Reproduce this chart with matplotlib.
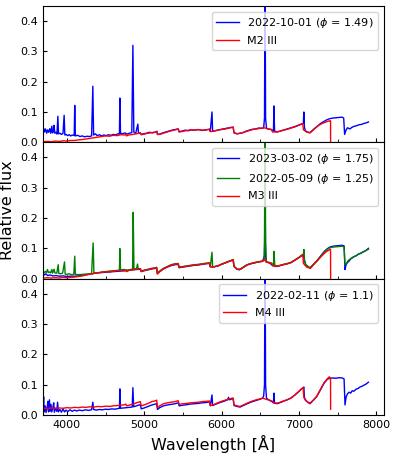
import matplotlib
matplotlib.use("Agg")
import matplotlib.pyplot as plt
from matplotlib.ticker import MultipleLocator

# ---------------- Panel 1 ----------------
label_obs1 = r"2022-10-01 ($\phi$ = 1.49)"
label_tpl1 = "M2 III"
w_obs1 = [3690, 3700, 3712, 3725, 3740, 3752, 3765, 3780, 3792, 3806, 3815, 3826, 3835, 3844, 3860, 3872,
          3884, 3892, 3910, 3930, 3950, 3965, 3974, 3990, 4010, 4030, 4050, 4070, 4095, 4102, 4110, 4140,
          4170, 4200, 4230, 4260, 4290, 4320, 4336, 4346, 4370, 4390, 4420, 4450, 4480, 4510, 4540, 4570,
          4600, 4630, 4660, 4680, 4686, 4694, 4720, 4750, 4780, 4810, 4840, 4854, 4866, 4890, 4918, 4926,
          4950, 4960, 4990, 5030, 5070, 5110, 5150, 5165, 5172, 5200, 5240, 5280, 5320, 5360, 5400, 5440,
          5452, 5490, 5530, 5570, 5610, 5650, 5700, 5750, 5800, 5845, 5855, 5877, 5885, 5920, 5960, 6000,
          6040, 6080, 6120, 6150, 6162, 6200, 6240, 6280, 6320, 6360, 6400, 6440, 6480, 6520, 6545, 6556,
          6563, 6570, 6582, 6620, 6650, 6660, 6672, 6678, 6686, 6720, 6760, 6800, 6850, 6900, 6950, 7000,
          7040, 7058, 7065, 7072, 7085, 7110, 7140, 7170, 7200, 7240, 7280, 7320, 7360, 7400, 7440, 7480,
          7520, 7560, 7580, 7592, 7610, 7630, 7660, 7690, 7720, 7750, 7780, 7810, 7840, 7870, 7900]
f_obs1 = [0.040, 0.046, 0.034, 0.044, 0.030, 0.041, 0.033, 0.045, 0.030, 0.053, 0.031, 0.036, 0.056, 0.030, 0.033, 0.027,
          0.086, 0.028, 0.030, 0.026, 0.029, 0.089, 0.024, 0.026, 0.022, 0.025, 0.021, 0.024, 0.022, 0.122, 0.021, 0.023,
          0.019, 0.021, 0.018, 0.020, 0.019, 0.021, 0.185, 0.024, 0.028, 0.022, 0.025, 0.021, 0.024, 0.022, 0.025, 0.023,
          0.026, 0.024, 0.028, 0.027, 0.146, 0.030, 0.028, 0.031, 0.027, 0.030, 0.032, 0.320, 0.034, 0.029, 0.060, 0.030,
          0.031, 0.026, 0.028, 0.030, 0.033, 0.031, 0.034, 0.036, 0.026, 0.027, 0.031, 0.034, 0.037, 0.040, 0.042, 0.044,
          0.035, 0.037, 0.040, 0.038, 0.041, 0.040, 0.042, 0.039, 0.041, 0.043, 0.036, 0.100, 0.037, 0.038, 0.041, 0.043,
          0.045, 0.047, 0.049, 0.050, 0.032, 0.028, 0.030, 0.032, 0.037, 0.040, 0.043, 0.044, 0.047, 0.046, 0.048, 0.080,
          0.600, 0.080, 0.046, 0.043, 0.042, 0.036, 0.038, 0.120, 0.037, 0.034, 0.037, 0.040, 0.044, 0.048, 0.052, 0.057,
          0.061, 0.062, 0.100, 0.050, 0.038, 0.034, 0.031, 0.038, 0.045, 0.053, 0.062, 0.068, 0.074, 0.078, 0.080, 0.081,
          0.082, 0.083, 0.080, 0.026, 0.040, 0.048, 0.044, 0.050, 0.053, 0.055, 0.058, 0.059, 0.062, 0.064, 0.067]

w_tpl1 = [3690, 3750, 3800, 3850, 3900, 3950, 4000, 4050, 4100, 4150, 4200, 4250, 4300, 4350, 4400, 4450,
          4500, 4550, 4600, 4650, 4700, 4750, 4762, 4772, 4800, 4850, 4900, 4950, 4962, 5000, 5050, 5100,
          5150, 5165, 5172, 5200, 5250, 5300, 5350, 5400, 5440, 5452, 5500, 5550, 5600, 5650, 5700, 5750,
          5800, 5845, 5855, 5900, 5950, 6000, 6050, 6100, 6150, 6162, 6200, 6250, 6300, 6350, 6400, 6450,
          6500, 6550, 6600, 6650, 6660, 6700, 6750, 6800, 6850, 6900, 6950, 7000, 7050, 7060, 7100, 7150,
          7200, 7250, 7300, 7350, 7400, 7410, 7411]
f_tpl1 = [0.002, 0.003, 0.002, 0.004, 0.003, 0.005, 0.004, 0.006, 0.006, 0.008, 0.009, 0.011, 0.013, 0.015, 0.017, 0.019,
          0.021, 0.020, 0.023, 0.022, 0.025, 0.024, 0.027, 0.021, 0.024, 0.026, 0.028, 0.031, 0.025, 0.027, 0.030, 0.032,
          0.034, 0.036, 0.026, 0.026, 0.030, 0.034, 0.038, 0.041, 0.044, 0.034, 0.036, 0.039, 0.041, 0.040, 0.042, 0.040,
          0.041, 0.043, 0.035, 0.037, 0.040, 0.042, 0.044, 0.047, 0.050, 0.031, 0.028, 0.030, 0.034, 0.038, 0.042, 0.044,
          0.046, 0.048, 0.044, 0.042, 0.034, 0.034, 0.036, 0.040, 0.043, 0.047, 0.051, 0.056, 0.062, 0.041, 0.034, 0.032,
          0.044, 0.055, 0.062, 0.067, 0.071, 0.071, 0.0]

# ---------------- Panel 2 ----------------
label_obs2a = r"2023-03-02 ($\phi$ = 1.75)"
label_obs2b = r"2022-05-09 ($\phi$ = 1.25)"
label_tpl2 = "M3 III"
w_obs2a = [3690, 3710, 3730, 3750, 3780, 3820, 3860, 3900, 3950, 4000, 4050, 4100, 4150, 4200, 4250, 4300,
           4350, 4400, 4450, 4500, 4550, 4600, 4650, 4700, 4750, 4800, 4850, 4900, 4950, 4962, 5000, 5050,
           5100, 5150, 5160, 5170, 5200, 5250, 5300, 5350, 5400, 5440, 5452, 5500, 5550, 5600, 5650, 5700,
           5750, 5800, 5845, 5855, 5900, 5960, 6000, 6050, 6100, 6150, 6162, 6200, 6230, 6280, 6330, 6380,
           6430, 6480, 6530, 6556, 6563, 6570, 6580, 6620, 6660, 6720, 6760, 6800, 6850, 6900, 6950, 7000,
           7040, 7058, 7074, 7090, 7120, 7145, 7180, 7230, 7280, 7330, 7370, 7400, 7440, 7480, 7520, 7560,
           7585, 7597, 7610, 7625, 7650, 7670, 7690, 7710, 7740, 7770, 7800, 7830, 7860, 7900]
f_obs2a = [0.018, 0.012, 0.016, 0.010, 0.012, 0.009, 0.010, 0.008, 0.009, 0.007, 0.008, 0.008, 0.009, 0.011, 0.013, 0.015,
           0.017, 0.019, 0.020, 0.021, 0.022, 0.023, 0.024, 0.025, 0.026, 0.027, 0.029, 0.030, 0.031, 0.023, 0.026, 0.029,
           0.032, 0.034, 0.035, 0.017, 0.023, 0.032, 0.038, 0.043, 0.046, 0.047, 0.036, 0.038, 0.040, 0.042, 0.044, 0.045,
           0.047, 0.049, 0.050, 0.039, 0.039, 0.042, 0.047, 0.052, 0.057, 0.061, 0.040, 0.031, 0.029, 0.037, 0.045, 0.049,
           0.052, 0.055, 0.057, 0.075, 0.300, 0.075, 0.055, 0.052, 0.043, 0.040, 0.043, 0.046, 0.049, 0.053, 0.061, 0.069,
           0.077, 0.079, 0.058, 0.045, 0.039, 0.035, 0.044, 0.058, 0.074, 0.090, 0.099, 0.104, 0.107, 0.108, 0.109, 0.110,
           0.108, 0.030, 0.045, 0.052, 0.058, 0.065, 0.068, 0.072, 0.075, 0.081, 0.083, 0.088, 0.091, 0.100]

w_obs2b = [3690, 3705, 3720, 3735, 3750, 3760, 3775, 3790, 3806, 3815, 3835, 3845, 3870, 3888, 3896, 3920,
           3945, 3970, 3978, 4000, 4030, 4060, 4090, 4102, 4110, 4150, 4200, 4250, 4300, 4320, 4340, 4350,
           4380, 4420, 4460, 4500, 4550, 4600, 4650, 4680, 4686, 4694, 4740, 4780, 4820, 4850, 4858, 4868,
           4900, 4914, 4922, 4950, 4962, 5000, 5050, 5100, 5150, 5160, 5170, 5200, 5250, 5300, 5350, 5400,
           5440, 5452, 5500, 5550, 5600, 5650, 5700, 5750, 5800, 5845, 5855, 5877, 5885, 5920, 5960, 6000,
           6050, 6100, 6140, 6152, 6162, 6200, 6230, 6280, 6330, 6380, 6430, 6480, 6530, 6550, 6556, 6563,
           6570, 6580, 6620, 6650, 6660, 6672, 6680, 6688, 6720, 6760, 6800, 6850, 6900, 6950, 7000, 7040,
           7058, 7066, 7074, 7090, 7120, 7145, 7180, 7230, 7280, 7330, 7370, 7400, 7440, 7480, 7520, 7560,
           7585, 7597, 7615, 7640, 7670, 7700, 7740, 7780, 7820, 7860, 7900]
f_obs2b = [0.022, 0.019, 0.024, 0.020, 0.030, 0.020, 0.022, 0.019, 0.030, 0.018, 0.031, 0.019, 0.018, 0.046, 0.017, 0.016,
           0.018, 0.055, 0.015, 0.014, 0.016, 0.013, 0.014, 0.074, 0.014, 0.013, 0.014, 0.015, 0.016, 0.017, 0.118, 0.020,
           0.019, 0.020, 0.022, 0.023, 0.025, 0.026, 0.027, 0.028, 0.099, 0.029, 0.030, 0.028, 0.030, 0.031, 0.219, 0.033,
           0.032, 0.048, 0.033, 0.033, 0.025, 0.028, 0.031, 0.034, 0.036, 0.037, 0.018, 0.025, 0.034, 0.040, 0.046, 0.049,
           0.050, 0.038, 0.040, 0.042, 0.044, 0.046, 0.047, 0.049, 0.051, 0.052, 0.040, 0.087, 0.038, 0.040, 0.043, 0.048,
           0.053, 0.058, 0.062, 0.063, 0.041, 0.032, 0.030, 0.038, 0.046, 0.050, 0.053, 0.056, 0.058, 0.062, 0.120, 0.600,
           0.120, 0.056, 0.053, 0.051, 0.044, 0.046, 0.090, 0.045, 0.041, 0.044, 0.047, 0.050, 0.054, 0.062, 0.070, 0.078,
           0.080, 0.096, 0.060, 0.046, 0.040, 0.036, 0.045, 0.057, 0.072, 0.088, 0.097, 0.102, 0.104, 0.105, 0.106, 0.107,
           0.105, 0.046, 0.050, 0.060, 0.066, 0.071, 0.076, 0.082, 0.087, 0.092, 0.097]

w_tpl2 = [3690, 3750, 3800, 3850, 3900, 3950, 4000, 4050, 4100, 4150, 4200, 4250, 4300, 4350, 4400, 4450,
          4500, 4550, 4600, 4650, 4700, 4750, 4762, 4772, 4800, 4850, 4900, 4950, 4962, 5000, 5050, 5100,
          5150, 5162, 5172, 5200, 5250, 5300, 5350, 5400, 5440, 5452, 5500, 5550, 5600, 5650, 5700, 5750,
          5800, 5845, 5855, 5900, 5950, 6000, 6050, 6100, 6150, 6162, 6200, 6250, 6300, 6350, 6400, 6450,
          6500, 6540, 6555, 6570, 6600, 6650, 6660, 6700, 6750, 6800, 6850, 6900, 6950, 7000, 7050, 7060,
          7080, 7100, 7150, 7200, 7250, 7300, 7350, 7400, 7410, 7411]
f_tpl2 = [0.002, 0.003, 0.002, 0.003, 0.002, 0.004, 0.003, 0.004, 0.005, 0.007, 0.009, 0.012, 0.015, 0.017, 0.019, 0.021,
          0.023, 0.022, 0.025, 0.026, 0.027, 0.026, 0.028, 0.023, 0.027, 0.029, 0.031, 0.033, 0.024, 0.027, 0.030, 0.033,
          0.035, 0.037, 0.015, 0.023, 0.033, 0.039, 0.045, 0.048, 0.049, 0.037, 0.039, 0.041, 0.043, 0.045, 0.046, 0.048,
          0.050, 0.051, 0.039, 0.039, 0.042, 0.047, 0.052, 0.057, 0.062, 0.040, 0.031, 0.031, 0.040, 0.047, 0.051, 0.054,
          0.056, 0.058, 0.065, 0.056, 0.053, 0.050, 0.043, 0.040, 0.043, 0.046, 0.049, 0.053, 0.061, 0.069, 0.078, 0.050,
          0.044, 0.038, 0.034, 0.049, 0.062, 0.076, 0.088, 0.096, 0.097, 0.0]

# ---------------- Panel 3 ----------------
label_obs3 = r"2022-02-11 ($\phi$ = 1.1)"
label_tpl3 = "M4 III"
w_obs3 = [3690, 3700, 3706, 3720, 3730, 3745, 3755, 3762, 3775, 3782, 3795, 3805, 3820, 3830, 3838, 3855,
          3870, 3880, 3890, 3910, 3930, 3950, 3970, 3990, 4010, 4040, 4070, 4100, 4130, 4160, 4200, 4240,
          4280, 4320, 4336, 4346, 4380, 4420, 4460, 4500, 4540, 4580, 4620, 4660, 4680, 4686, 4694, 4730,
          4770, 4810, 4845, 4854, 4864, 4900, 4950, 4962, 5000, 5050, 5100, 5150, 5162, 5172, 5200, 5250,
          5300, 5350, 5400, 5440, 5452, 5500, 5550, 5600, 5650, 5700, 5750, 5800, 5845, 5855, 5877, 5885,
          5930, 5980, 6030, 6080, 6090, 6100, 6150, 6162, 6200, 6240, 6300, 6350, 6400, 6450, 6500, 6530,
          6545, 6556, 6563, 6570, 6582, 6620, 6660, 6672, 6678, 6686, 6720, 6760, 6800, 6850, 6900, 6950,
          7000, 7040, 7058, 7065, 7072, 7090, 7120, 7145, 7190, 7230, 7280, 7330, 7370, 7400, 7440, 7480,
          7520, 7560, 7585, 7597, 7612, 7630, 7650, 7670, 7690, 7710, 7740, 7770, 7790, 7820, 7840, 7870,
          7900]
f_obs3 = [0.012, 0.060, 0.010, 0.030, 0.008, 0.025, 0.045, 0.010, 0.050, 0.012, 0.035, 0.010, 0.025, 0.040, 0.009, 0.022,
          0.012, 0.042, 0.010, 0.018, 0.009, 0.020, 0.010, 0.016, 0.011, 0.017, 0.012, 0.016, 0.013, 0.016, 0.014, 0.017,
          0.015, 0.017, 0.042, 0.018, 0.016, 0.018, 0.017, 0.019, 0.018, 0.020, 0.019, 0.021, 0.022, 0.086, 0.022, 0.023,
          0.024, 0.025, 0.026, 0.090, 0.027, 0.030, 0.034, 0.020, 0.023, 0.028, 0.033, 0.036, 0.037, 0.018, 0.024, 0.030,
          0.033, 0.035, 0.037, 0.040, 0.030, 0.032, 0.034, 0.036, 0.037, 0.038, 0.040, 0.041, 0.043, 0.030, 0.066, 0.031,
          0.036, 0.041, 0.045, 0.050, 0.058, 0.050, 0.054, 0.031, 0.028, 0.026, 0.033, 0.039, 0.044, 0.048, 0.052, 0.056,
          0.062, 0.100, 0.600, 0.100, 0.055, 0.048, 0.043, 0.040, 0.072, 0.039, 0.037, 0.041, 0.045, 0.050, 0.056, 0.066,
          0.077, 0.087, 0.089, 0.092, 0.058, 0.048, 0.041, 0.037, 0.049, 0.060, 0.083, 0.106, 0.118, 0.121, 0.122, 0.121,
          0.123, 0.122, 0.119, 0.033, 0.060, 0.070, 0.075, 0.072, 0.080, 0.078, 0.085, 0.088, 0.092, 0.095, 0.098, 0.102,
          0.108]

w_tpl3 = [3690, 3750, 3800, 3850, 3900, 3950, 4000, 4050, 4100, 4150, 4200, 4250, 4300, 4350, 4400, 4450,
          4500, 4550, 4600, 4650, 4700, 4750, 4762, 4772, 4800, 4850, 4900, 4950, 4962, 5000, 5050, 5100,
          5150, 5162, 5172, 5200, 5250, 5300, 5350, 5400, 5440, 5452, 5500, 5550, 5600, 5650, 5700, 5750,
          5800, 5845, 5855, 5900, 5950, 6000, 6050, 6100, 6150, 6162, 6200, 6240, 6300, 6350, 6400, 6450,
          6500, 6540, 6570, 6620, 6660, 6670, 6720, 6760, 6800, 6850, 6900, 6950, 7000, 7040, 7055, 7065,
          7080, 7110, 7145, 7190, 7230, 7280, 7330, 7370, 7395, 7405, 7410, 7411]
f_tpl3 = [0.022, 0.021, 0.023, 0.022, 0.023, 0.022, 0.024, 0.023, 0.025, 0.024, 0.026, 0.025, 0.027, 0.026, 0.028, 0.027,
          0.029, 0.028, 0.030, 0.031, 0.032, 0.034, 0.036, 0.030, 0.032, 0.035, 0.040, 0.044, 0.030, 0.033, 0.038, 0.044,
          0.047, 0.049, 0.024, 0.030, 0.037, 0.040, 0.042, 0.044, 0.047, 0.035, 0.037, 0.038, 0.040, 0.041, 0.042, 0.044,
          0.045, 0.046, 0.031, 0.034, 0.040, 0.045, 0.049, 0.053, 0.056, 0.033, 0.030, 0.028, 0.035, 0.041, 0.046, 0.050,
          0.053, 0.055, 0.052, 0.049, 0.045, 0.040, 0.039, 0.042, 0.046, 0.050, 0.056, 0.066, 0.078, 0.088, 0.090, 0.058,
          0.050, 0.043, 0.039, 0.050, 0.061, 0.085, 0.108, 0.120, 0.126, 0.120, 0.122, 0.019]

x_ticks = [4000, 5000, 6000, 7000, 8000]
y_ticks = [0.0, 0.1, 0.2, 0.3, 0.4]

fig, axes = plt.subplots(3, 1, figsize=(3.97, 4.59), dpi=100, sharex=True)
fig.subplots_adjust(left=0.108, right=0.967, top=0.987, bottom=0.096, hspace=0)

lw = 1.0
ax1, ax2, ax3 = axes
ax1.plot(w_obs1, f_obs1, color="blue", lw=lw, label=label_obs1)
ax1.plot(w_tpl1, f_tpl1, color="red", lw=lw, label=label_tpl1)

ax2.plot(w_obs2a, f_obs2a, color="blue", lw=lw, label=label_obs2a)
ax2.plot(w_obs2b, f_obs2b, color="green", lw=lw, label=label_obs2b)
ax2.plot(w_tpl2, f_tpl2, color="red", lw=lw, label=label_tpl2)

ax3.plot(w_obs3, f_obs3, color="blue", lw=lw, label=label_obs3)
ax3.plot(w_tpl3, f_tpl3, color="red", lw=lw, label=label_tpl3)

for ax in axes:
    ax.set_xlim(3690, 8100)
    ax.set_ylim(0, 0.45)
    ax.set_yticks(y_ticks)
    ax.set_xticks(x_ticks)
    ax.xaxis.set_minor_locator(MultipleLocator(500))
    ax.tick_params(axis="both", which="major", direction="in", labelsize=8, length=3)
    ax.tick_params(axis="both", which="minor", direction="in", length=2)
    ax.legend(loc="upper right", fontsize=8)

ax3.set_xlabel("Wavelength [Å]", fontsize=11.5)
ax2.set_ylabel("Relative flux", fontsize=11.5)

fig.savefig("out.png", dpi=100)
